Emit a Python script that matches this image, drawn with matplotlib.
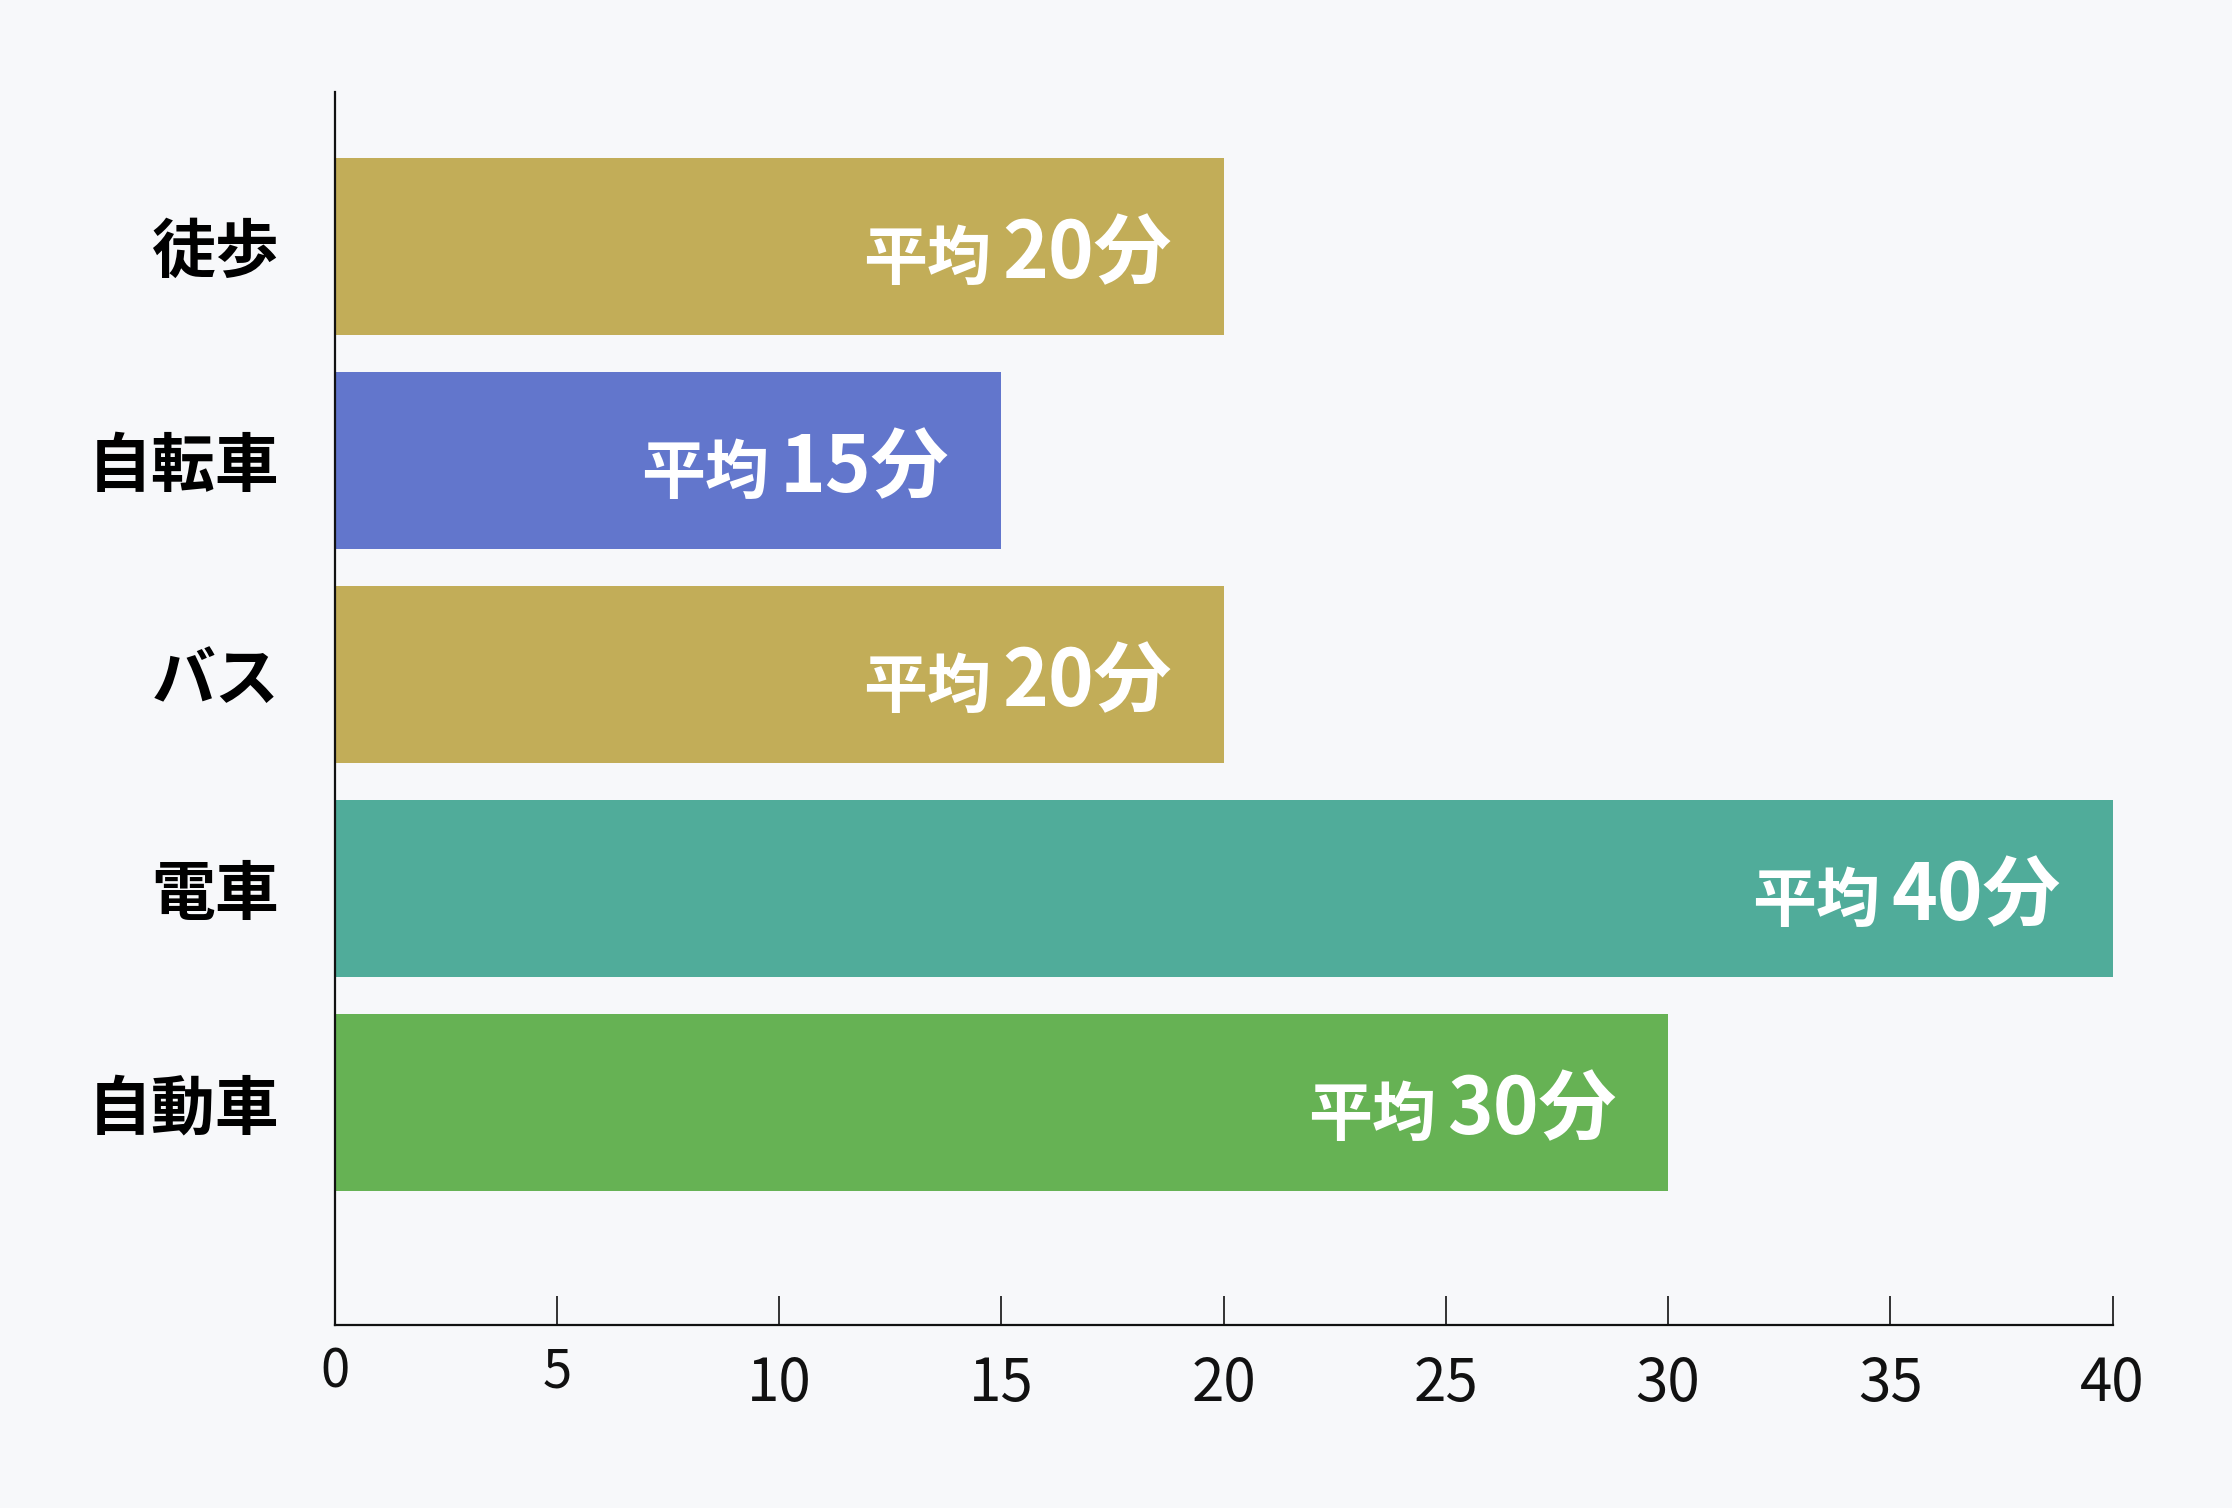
import matplotlib
matplotlib.use("Agg")
import matplotlib.pyplot as plt
import matplotlib.transforms as mtransforms

plt.rcParams['font.family'] = ['Noto Sans CJK JP', 'DejaVu Sans']

# data
modes = ["徒歩", "自転車", "バス", "電車", "自動車"]
minutes = [20, 15, 20, 40, 30]
bar_colors = ["#C2AD58", "#6276CC", "#C2AD58", "#50AC9A", "#66B254"]
xticks = [0, 5, 10, 15, 20, 25, 30, 35, 40]
bg = "#F7F8FA"

fig = plt.figure(figsize=(22.32, 15.08), dpi=100, facecolor=bg)
ax = fig.add_axes([0.1499, 0.1213, 0.7966, 0.8174], facecolor=bg)

ypos = list(range(len(modes)))
ax.barh(ypos, minutes, height=0.83, color=bar_colors, zorder=2)
ax.set_ylim(len(modes) - 1 + 1.04, -0.72)  # first category at top
ax.set_xlim(0, 40)

for s in ["top", "right"]:
    ax.spines[s].set_visible(False)
for s in ["left", "bottom"]:
    ax.spines[s].set_linewidth(1.6)
    ax.spines[s].set_color("#111111")

ax.set_yticks(ypos)
ax.set_yticklabels(modes, fontsize=46, fontweight="bold")
ax.tick_params(axis="y", length=0, pad=40)

ax.set_xticks(xticks)
ax.set_xticklabels([])
ax.tick_params(axis="x", direction="in", length=21, width=1.2, color="#111111")

# x tick labels: the first two are a little smaller and sit higher
btrans = mtransforms.blended_transform_factory(ax.transData, ax.transAxes)
for t in xticks:
    small = t < 10
    ax.text(t, -0.051 if small else -0.0615, str(t), transform=btrans,
            ha="center", va="baseline", fontsize=38 if small else 42, color="#111111")

# bar labels
fig.canvas.draw()
renderer = fig.canvas.get_renderer()
for y, v in zip(ypos, minutes):
    tr = mtransforms.offset_copy(ax.transData, fig=fig, x=-52, y=-32, units="dots")
    num = ax.text(v, y, f"{v}分", transform=tr, ha="right", va="baseline",
                  fontsize=56, fontweight="bold", color="white", zorder=3)
    bb = num.get_window_extent(renderer)
    x_left = ax.transData.inverted().transform((bb.x0, 0))[0]
    tr2 = mtransforms.offset_copy(ax.transData, fig=fig, x=-11, y=-32, units="dots")
    ax.text(x_left, y, "平均", transform=tr2, ha="right", va="baseline",
            fontsize=46, fontweight="bold", color="white", zorder=3)

fig.savefig("out.png", dpi=100, facecolor=bg)
